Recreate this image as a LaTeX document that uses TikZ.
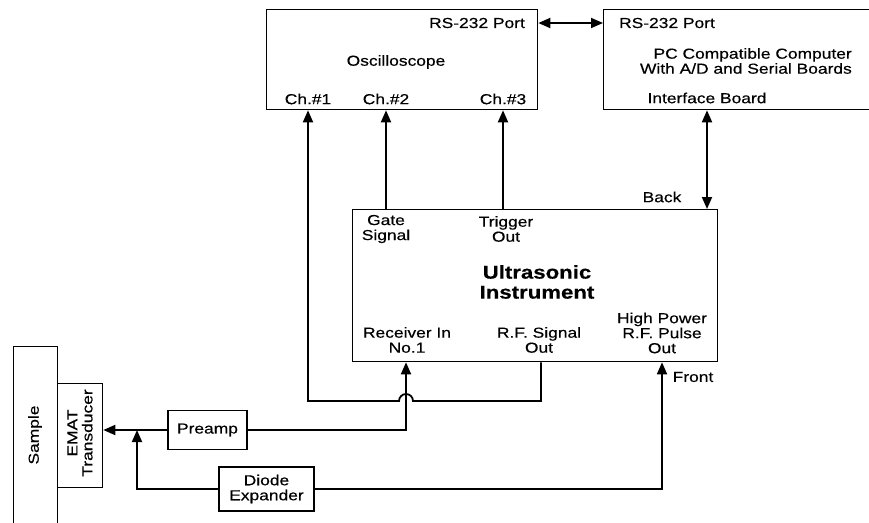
\documentclass[tikz,border=0pt]{standalone}
\usepackage{fontspec}
\setmainfont[FakeStretch=1.2, FakeBold=0.4]{Liberation Sans}
\usetikzlibrary{positioning, arrows.meta}

\begin{document}
\begin{tikzpicture}[
		x=1pt, y=-1pt,
		caja/.style={
			draw,
			line width=1.3pt,
			inner sep=0pt,
			align=center,
			font=\fontsize{14.5}{15}\selectfont
		},
		etiq/.style={
			inner sep=0pt,
			align=center,
			font=\fontsize{14.5}{15}\selectfont
		},
		flecha/.style={
			-{Triangle[length=12pt,width=10pt]},
			line width=1.8pt
		},
		dflecha/.style={
			{Triangle[length=12pt,width=10pt]}-{Triangle[length=12pt,width=10pt]},
			line width=1.8pt
		}
		]
		\clip (0,0) rectangle (869,522);
		% Boxes
		\node[caja, anchor=north west, minimum width=271pt, minimum height=100pt]
		(osc) at (266,9) {};
		\node[caja, anchor=north west, minimum width=280pt, minimum height=100pt]
		(pc) at (603,9) {};
		\node[caja, anchor=north west, minimum width=365pt, minimum height=152pt]
		(ultra) at (352,209) {};
		\node[caja, anchor=north west, minimum width=44pt, minimum height=200pt]
		(sample) at (13,346) {};
		\node[caja, anchor=north west, minimum width=45pt, minimum height=104pt]
		(emat) at (57,383) {};
		\node[caja, minimum width=79pt, minimum height=39pt]
		(preamp) at (207.5,430) {Preamp};
		\node[caja, minimum width=95pt, minimum height=44pt]
		(diode) at (266.5,489) {Diode\\Expander};
		% Labels
		\node[etiq] (rsosc) at (477,23) {RS-232 Port};
		\node[etiq] (osclbl) at (396,62) {Oscilloscope};
		\node[etiq] (ch1) at (308,99) {Ch.\#1};
		\node[etiq] (ch2) at (386,99) {Ch.\#2};
		\node[etiq] (ch3) at (503,99) {Ch.\#3};
		\node[etiq] (rspc) at (667,23) {RS-232 Port};
		\node[etiq, align=right, anchor=east] (pclbl) at (852,61)
		{PC Compatible Computer\\With A/D and Serial Boards};
		\node[etiq] (iface) at (707,98) {Interface Board};
		\node[etiq] (back) at (662,197) {Back};
		\node[etiq] (gate) at (386,229) {Gate\\Signal};
		\node[etiq] (trig) at (506,229) {Trigger\\Out};
		\node[etiq, font=\bfseries\fontsize{18.5}{20}\selectfont] (ultralbl) at (537,282)
		{Ultrasonic\\Instrument};
		\node[etiq] (hpout) at (662,333) {High Power\\R.F. Pulse\\Out};
		\node[etiq] (rxin) at (407,340) {Receiver In\\No.1};
		\node[etiq] (rfsig) at (539,340) {R.F. Signal\\Out};
		\node[etiq] (front) at (693,377) {Front};
		\node[etiq, rotate=90] (samplelbl) at (35,435) {Sample};
		\node[etiq, rotate=90] (ematlbl) at (80,433) {EMAT\\Transducer};
		% Bends
		\coordinate (rfbend) at (541,401);
		\coordinate (hop) at (406,401);
		\coordinate (hpx) at (662,489);
		\coordinate (jct) at (137,430);
		% Arrows
		\draw[dflecha] (osc.east |- rsosc) -- (pc.west |- rsosc);
		\draw[dflecha] (pc.south -| iface) -- (ultra.north -| iface);
		\draw[flecha] (ultra.north -| ch2) -- (osc.south -| ch2);
		\draw[flecha] (ultra.north -| ch3) -- (osc.south -| ch3);
		\draw[flecha] (ultra.south -| rfbend) -- (rfbend) -- ([xshift=7pt]hop)
		arc[start angle=0, end angle=180, radius=7pt]
		-- (hop -| ch1) -- (osc.south -| ch1);
		\draw[flecha] (preamp.east) -| (ultra.south -| hop);
		\draw[flecha] (preamp.west) -- (preamp.west -| emat.east);
		\draw[flecha] (diode.east) -| (ultra.south -| hpx);
		\draw[flecha] (diode.west) -| (jct);
	\end{tikzpicture}
\end{document}
